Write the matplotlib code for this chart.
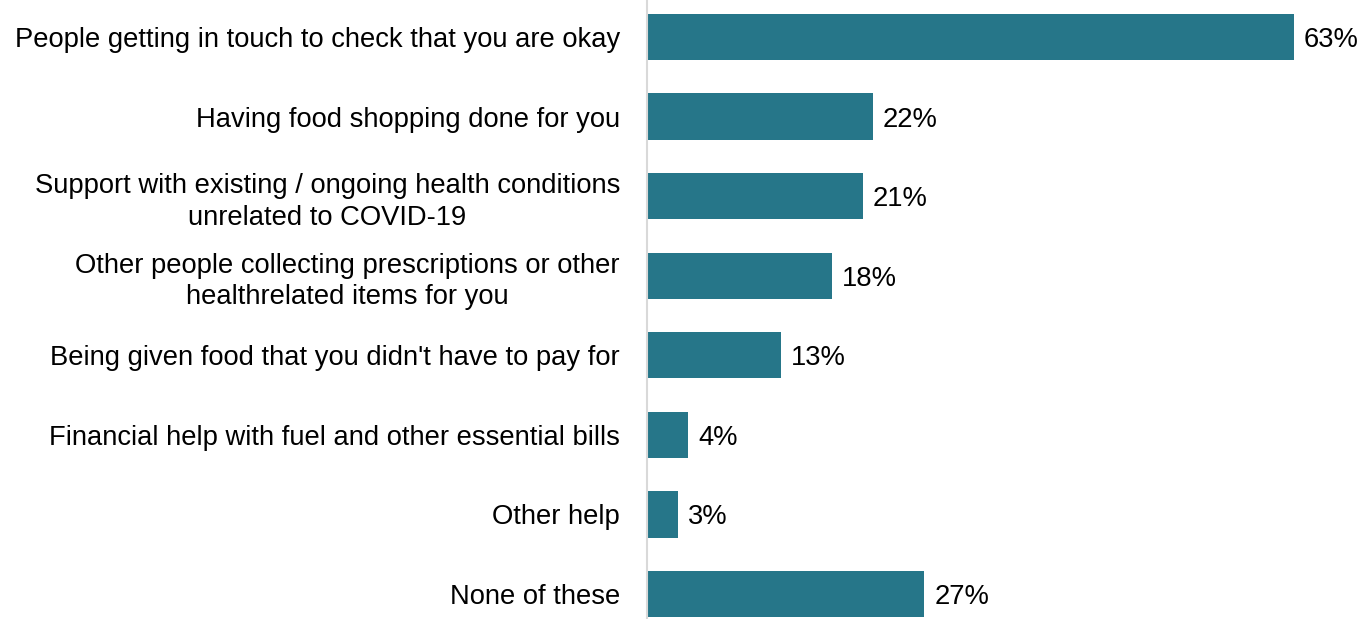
import matplotlib
matplotlib.use("Agg")
import matplotlib.pyplot as plt

categories = [
    "People getting in touch to check that you are okay",
    "Having food shopping done for you",
    "Support with existing / ongoing health conditions\nunrelated to COVID-19",
    "Other people collecting prescriptions or other\nhealthrelated items for you",
    "Being given food that you didn't have to pay for",
    "Financial help with fuel and other essential bills",
    "Other help",
    "None of these",
]
values = [63, 22, 21, 18, 13, 4, 3, 27]

plt.rcParams['font.family'] = ['Liberation Sans', 'DejaVu Sans']
fs = 19.7

W, H = 1363, 619
fig = plt.figure(figsize=(W / 100, H / 100), dpi=100)
x0 = 647
ax = fig.add_axes([x0 / W, 0, (W - x0) / W, 1])

px_per_pct = (1294 - x0) / 63
ypos = list(range(len(categories)))
ax.barh(ypos, values, height=0.58, color='#267689')

# value labels just right of each bar
for y, v in zip(ypos, values):
    ax.text(v + 10 / px_per_pct, y, f"{v}%", va='center_baseline', ha='left', fontsize=fs, color='black')

ax.set_xlim(0, (W - x0) / px_per_pct)
ax.set_ylim(7 + (H - 594) / 79.6, -37 / 79.6)

ax.set_yticks(ypos)
ax.set_yticklabels(categories, fontsize=fs)
for t in ax.get_yticklabels():
    t.set_multialignment('center')
    t.set_linespacing(1.28)
ax.tick_params(axis='y', length=0, pad=19.5)
ax.set_xticks([])

for s in ['top', 'right', 'bottom']:
    ax.spines[s].set_visible(False)
ax.spines['left'].set_color('#D9D9D9')
ax.spines['left'].set_linewidth(1.5)

fig.savefig("out.png", dpi=100)
